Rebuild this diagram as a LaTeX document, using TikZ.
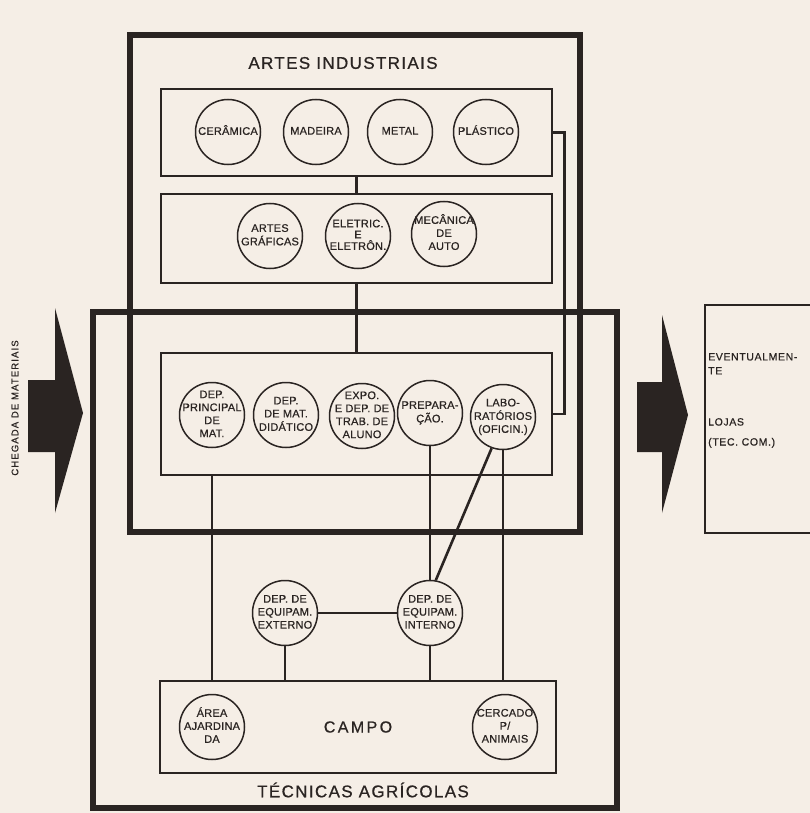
\documentclass[tikz,border=0pt]{standalone}
\usepackage{fontspec}
\setmainfont{Liberation Sans}[FakeBold=0.7]
\usetikzlibrary{positioning}

\definecolor{papel}{RGB}{245,238,230}
\definecolor{tinta}{RGB}{42,36,34}

% text set inside a circle without making the circle grow
\newcommand{\rotulo}[1]{\makebox[0pt]{\raisebox{\dimexpr(\depth-\height)/2\relax}[0pt][0pt]{\begin{tabular}{@{}c@{}}#1\end{tabular}}}}

\tikzset{
    moldura/.style={draw=tinta, line width=5.5pt},
    caixa/.style={draw=tinta, line width=1.4pt, rectangle, inner sep=0pt},
    setor/.style={draw=tinta, line width=1.5pt, circle, minimum size=65pt, inner sep=0pt,
        font=\fontsize{11}{13}\selectfont\addfontfeatures{LetterSpace=2}},
    liga/.style={draw=tinta, line width=2.6pt},
    titulo/.style={text=tinta, font=\fontsize{17}{20}\selectfont\addfontfeatures{LetterSpace=8}},
}

\begin{document}
\begin{tikzpicture}[x=1pt, y=-1pt, text=tinta]
    % Paper
    \fill[papel] (0,0) rectangle (810,813);
    \useasboundingbox (0,0) rectangle (810,813);

    % Thick frames
    \draw[moldura] (130,35) rectangle (580,532);
    \draw[moldura] (93,312) rectangle (617,808);
    \node[titulo] (artes) at (343,63) {ARTES INDUSTRIAIS};
    \node[titulo] (agric) at (363,790) {TÉCNICAS AGRÍCOLAS};

    % Inner boxes
    \node[caixa, minimum width=391pt, minimum height=87pt] (linhaA) at (356.5,132.5) {};
    \node[caixa, minimum width=391pt, minimum height=89pt] (linhaB) at (356.5,238.5) {};
    \node[caixa, minimum width=391pt, minimum height=122pt] (linhaC) at (356.5,414) {};
    \node[caixa, minimum width=396pt, minimum height=92pt,
        font=\fontsize{16}{18}\selectfont\addfontfeatures{LetterSpace=15}] (campo) at (358,727) {CAMPO};

    % Workshops
    \node[setor] (ceram) at (228,132) {\rotulo{CERÂMICA}};
    \node[setor] (madei) at (316,132) {\rotulo{MADEIRA}};
    \node[setor] (metal) at (400,132) {\rotulo{METAL}};
    \node[setor] (plast) at (486,132) {\rotulo{PLÁSTICO}};

    \node[setor] (graf) at (270,236) {\rotulo{ARTES\\GRÁFICAS}};
    \node[setor] (eletr) at (358,236) {\rotulo{ELETRIC.\\[-2pt]E\\[-2pt]ELETRÔN.}};
    \node[setor] (mecan) at (444,234) {\rotulo{MECÂNICA\\DE\\AUTO}};

    % Storage and labs
    \node[setor] (depprin) at (212,415) {\rotulo{DEP.\\PRINCIPAL\\DE\\MAT.}};
    \node[setor] (depdid) at (286,415) {\rotulo{DEP.\\DE MAT.\\DIDÁTICO}};
    \node[setor] (expo) at (362,416) {\rotulo{EXPO.\\E DEP. DE\\TRAB. DE\\ALUNO}};
    \node[setor] (prepar) at (430,413) {\rotulo{PREPARA-\\ÇÃO.}};
    \node[setor] (labor) at (503,417) {\rotulo{LABO-\\RATÓRIOS\\(OFICIN.)}};

    % Equipment
    \node[setor] (externo) at (285,613) {\rotulo{DEP. DE\\EQUIPAM.\\EXTERNO}};
    \node[setor] (interno) at (430,613) {\rotulo{DEP. DE\\EQUIPAM.\\INTERNO}};

    % Field
    \node[setor] (jardim) at (212,727) {\rotulo{ÁREA\\AJARDINA\\DA}};
    \node[setor] (cercado) at (505,727) {\rotulo{CERCADO\\P/\\ANIMAIS}};

    % Connections
    \draw[liga] (linhaA.south) -- (linhaB.north);
    \draw[liga] (linhaB.south) -- (linhaC.north);
    \draw[liga] (linhaA.east) -- ++(12,0) |- (linhaC.east);
    \draw[liga] (depprin |- linhaC.south) -- (depprin |- campo.north);
    \draw[liga] (prepar.south) -- (interno.north);
    \draw[liga] (interno.south) -- (interno |- campo.north);
    \draw[liga] (labor.south) -- (labor |- campo.north);
    \draw[liga] (labor.250) -- (interno.80);
    \draw[liga] (externo.east) -- (interno.west);
    \draw[liga] (externo.south) -- (externo |- campo.north);

    % Incoming materials
    \fill[tinta] (28,380) -- (55,380) -- (55,308) -- (83,413) -- (55,513) -- (55,452) -- (28,452) -- cycle;
    \node[rotate=90, font=\fontsize{9.5}{11}\selectfont\addfontfeatures{LetterSpace=12}] (chegada) at (15,408) {CHEGADA DE MATERIAIS};

    % Outgoing
    \fill[tinta] (637,382) -- (662,382) -- (662,315) -- (688,415) -- (662,513) -- (662,452) -- (637,452) -- cycle;
    \draw[draw=tinta, line width=1.6pt] (810,305) -- (705,305) -- (705,533) -- (810,533);
    \node[anchor=north west, align=left, inner sep=0pt,
        font=\fontsize{10.5}{14}\selectfont\addfontfeatures{LetterSpace=6}] (eventual) at (708,353) {EVENTUALMEN-\\TE};
    \node[anchor=north west, align=left, inner sep=0pt,
        font=\fontsize{10.5}{20}\selectfont\addfontfeatures{LetterSpace=6}] (lojas) at (708,418) {LOJAS\\(TEC. COM.)};
\end{tikzpicture}
\end{document}
